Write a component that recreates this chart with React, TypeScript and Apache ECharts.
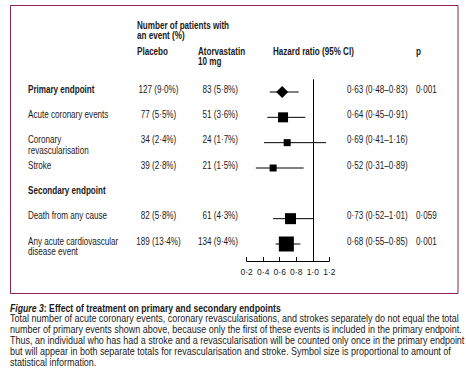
import React, { useEffect, useRef } from "react";
import * as echarts from "echarts";

const rowLabels = [
  "Primary endpoint",
  "Acute coronary events",
  "Coronary\nrevascularisation",
  "Stroke",
  "Secondary endpoint",
  "Death from any cause",
  "Any acute cardiovascular\ndisease event",
];
const headerRow = [true, false, false, false, true, false, false];
const placeboN = [127, 77, 34, 39, null, 82, 189];
const placeboPct = [9.0, 5.5, 2.4, 2.8, null, 5.8, 13.4];
const atorvaN = [83, 51, 24, 21, null, 61, 134];
const atorvaPct = [5.8, 3.6, 1.7, 1.5, null, 4.3, 9.4];
const hazardRatio = [0.63, 0.64, 0.69, 0.52, null, 0.73, 0.68];
const ciLow = [0.48, 0.45, 0.41, 0.31, null, 0.52, 0.55];
const ciHigh = [0.83, 0.91, 1.16, 0.89, null, 1.01, 0.85];
const pValues = ["0·001", "", "", "", "", "0·059", "0·001"];
const symbolSizes = [12, 10, 7, 7, null, 11, 15];
const symbolShapes = ["diamond", "square", "square", "square", "", "square", "square"];
const xTicks = { min: 0.2, max: 1.2, interval: 0.2 };

const captionTitle = "Effect of treatment on primary and secondary endpoints";
const captionLines = [
  "Total number of acute coronary events, coronary revascularisations, and strokes separately do not equal the total",
  "number of primary events shown above, because only the first of these events is included in the primary endpoint.",
  "Thus, an individual who has had a stroke and a revascularisation will be counted only once in the primary endpoint",
  "but will appear in both separate totals for revascularisation and stroke. Symbol size is proportional to amount of",
  "statistical information.",
];

const FONT = '"Liberation Sans", Arial, sans-serif';
const INK = "#1a1a1a";
const TABLE_SCALE = 0.81;
const CAPTION_SCALE = 0.818;
const TITLE_SCALE = 0.79;
const fmt = (v: number, d: number) => v.toFixed(d).replace(".", "·");

export default function App() {
  const ref = useRef<HTMLDivElement>(null);
  useEffect(() => {
    if (!ref.current) return;
    const chart = echarts.init(ref.current, undefined, { renderer: "svg" });

    const firstRowY = 92;
    const lastRowY = 244;
    const unit = (lastRowY - firstRowY) / (rowLabels.length - 1);
    const gridTop = 79.3;
    const gridBottom = 261;
    const yMin = -(firstRowY - gridTop) / unit;
    const yMax = (gridBottom - firstRowY) / unit;

    const data: any[] = [];
    hazardRatio.forEach((hr, i) => {
      if (hr == null) return;
      data.push([hr, i, ciLow[i], ciHigh[i], symbolSizes[i], symbolShapes[i] === "diamond" ? 1 : 0]);
    });

    chart.setOption({
      animation: false,
      backgroundColor: "#ffffff",
      textStyle: { fontFamily: FONT },
      grid: { left: 246.7, width: 82.6, top: gridTop, height: gridBottom - gridTop },
      xAxis: {
        type: "value",
        min: xTicks.min,
        max: xTicks.max,
        interval: xTicks.interval,
        axisLine: { show: true, onZero: false, lineStyle: { color: "#000", width: 1 } },
        axisTick: { show: true, inside: true, length: 4, lineStyle: { color: "#000" } },
        splitLine: { show: false },
        axisLabel: {
          color: INK,
          fontSize: 8.5,
          fontFamily: FONT,
          margin: 6,
          formatter: (v: number) => fmt(v, 1),
        },
      },
      yAxis: {
        type: "value",
        inverse: true,
        min: yMin,
        max: yMax,
        show: false,
      },
      series: [
        {
          type: "custom",
          data,
          renderItem: (params: any, api: any) => {
            const hr = api.value(0);
            const row = api.value(1);
            const lo = api.coord([api.value(2), row]);
            const hi = api.coord([api.value(3), row]);
            const c = api.coord([hr, row]);
            const s = api.value(4);
            const diamond = api.value(5) === 1;
            const marker = diamond
              ? {
                  type: "polygon",
                  shape: {
                    points: [
                      [c[0], c[1] - s / 2],
                      [c[0] + s / 2, c[1]],
                      [c[0], c[1] + s / 2],
                      [c[0] - s / 2, c[1]],
                    ],
                  },
                  style: { fill: "#000" },
                }
              : {
                  type: "rect",
                  shape: { x: c[0] - s / 2, y: c[1] - s / 2, width: s, height: s },
                  style: { fill: "#000" },
                };
            return {
              type: "group",
              children: [
                {
                  type: "line",
                  shape: { x1: lo[0], y1: lo[1], x2: hi[0], y2: hi[1] },
                  style: { stroke: "#000", lineWidth: 1 },
                },
                marker,
              ],
            };
          },
          markLine: {
            silent: true,
            symbol: "none",
            label: { show: false },
            lineStyle: { color: "#000", width: 1, type: "solid" },
            data: [{ xAxis: 1.0 }],
          },
        },
      ],
    });

    const rowY = (i: number) => chart.convertToPixel({ gridIndex: 0 }, [1, i])[1];
    const txt = (text: string, x: number, y: number, opts: any = {}) => ({
      type: "text",
      x,
      y,
      scaleX: opts.scale || TABLE_SCALE,
      silent: true,
      style: {
        text,
        fill: INK,
        fontFamily: FONT,
        fontSize: opts.fontSize || 10,
        fontWeight: opts.bold ? "bold" : "normal",
        textAlign: opts.align || "left",
        textVerticalAlign: opts.valign || "middle",
        lineHeight: opts.lineHeight || 10,
      },
    });

    const elements: any[] = [];
    elements.push({
      type: "rect",
      shape: { x: 10.5, y: 5.5, width: 447.5, height: 288 },
      style: { fill: "none", stroke: "#8b2252", lineWidth: 1 },
      silent: true,
    });
    // headers
    elements.push(txt("Number of patients with\nan event (%)", 137, 21, { bold: true, valign: "top", lineHeight: 9.5 }));
    elements.push(txt("Placebo", 137, 51.7, { bold: true }));
    elements.push(txt("Atorvastatin\n10 mg", 198, 47, { bold: true, valign: "top", lineHeight: 9.5 }));
    elements.push(txt("Hazard ratio (95% CI)", 273, 51.7, { bold: true }));
    elements.push(txt("p", 416, 51.7, { bold: true }));

    rowLabels.forEach((label, i) => {
      const y = rowY(i);
      const twoLine = label.includes("\n");
      const ty = twoLine ? y - 8 : y - 2.5;
      const va = twoLine ? "top" : "middle";
      elements.push(txt(label, 28, ty, { bold: headerRow[i], valign: va, lineHeight: twoLine ? 10.5 : 10 }));
      if (placeboN[i] != null) {
        elements.push(txt(`${placeboN[i]} (${fmt(placeboPct[i] as number, 1)}%)`, 158.5, y - 2.5, { align: "center" }));
        elements.push(txt(`${atorvaN[i]} (${fmt(atorvaPct[i] as number, 1)}%)`, 238, y - 2.5, { align: "right" }));
      }
      if (hazardRatio[i] != null) {
        elements.push(
          txt(
            `${fmt(hazardRatio[i] as number, 2)} (${fmt(ciLow[i] as number, 2)}–${fmt(ciHigh[i] as number, 2)})`,
            347,
            y - 2.5
          )
        );
      }
      if (pValues[i]) elements.push(txt(pValues[i], 416, y - 2.5));
    });

    // caption
    elements.push({
      type: "text",
      x: 10,
      y: 308,
      scaleX: TITLE_SCALE,
      silent: true,
      style: {
        text: `{i|Figure 3}{b|: ${captionTitle}}`,
        fill: INK,
        fontFamily: FONT,
        fontSize: 11,
        textVerticalAlign: "middle",
        rich: {
          i: { fontStyle: "italic", fontWeight: "bold", fontFamily: FONT, fontSize: 11, fill: INK },
          b: { fontWeight: "bold", fontFamily: FONT, fontSize: 11, fill: INK },
        },
      },
    });
    elements.push({
      type: "text",
      x: 10,
      y: 313,
      scaleX: CAPTION_SCALE,
      silent: true,
      style: {
        text: captionLines.join("\n"),
        fill: INK,
        fontFamily: FONT,
        fontSize: 11,
        lineHeight: 11,
        textVerticalAlign: "top",
      },
    });

    chart.setOption({ graphic: { elements } });
    return () => chart.dispose();
  }, []);
  return (
    <div
      ref={ref}
      style={{ position: "absolute", left: 0, top: 0, width: 466, height: 384, background: "#fff" }}
    />
  );
}
